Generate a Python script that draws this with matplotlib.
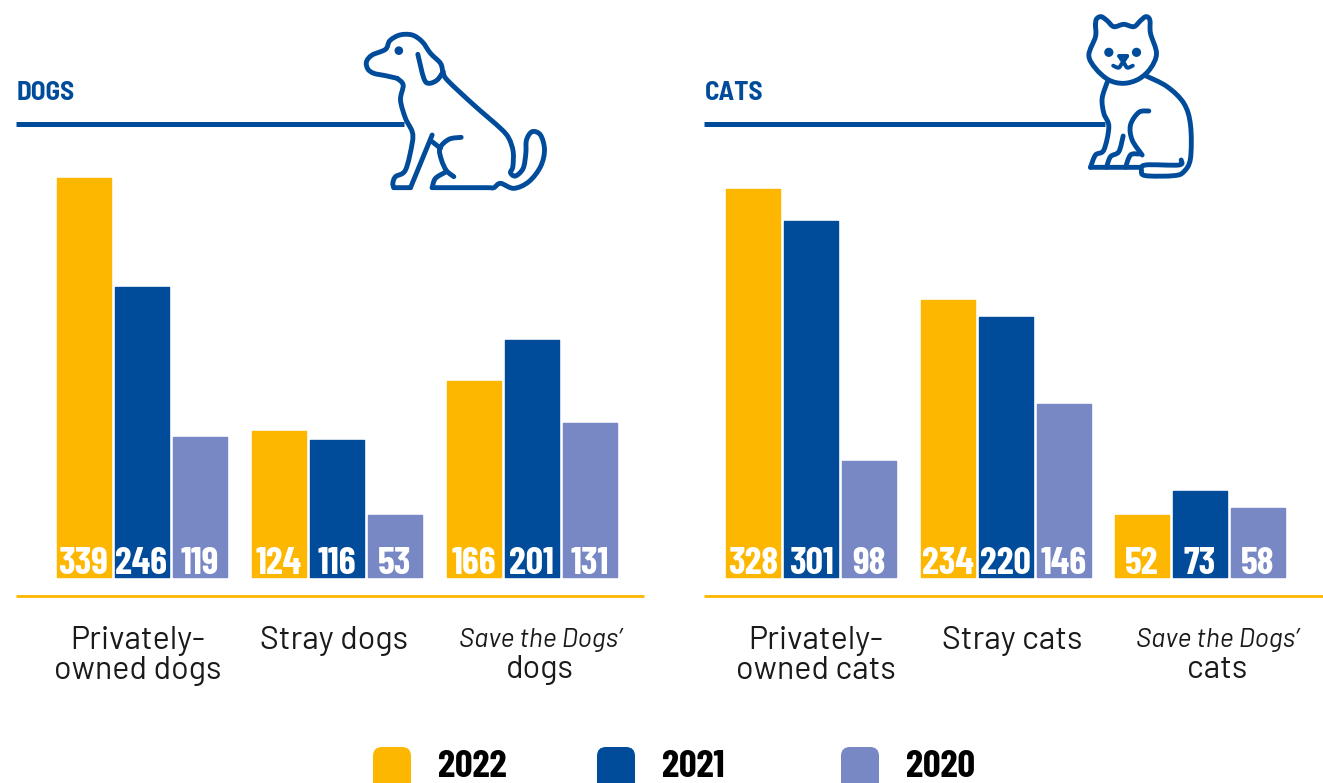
import matplotlib
matplotlib.use("Agg")
import matplotlib.pyplot as plt
from matplotlib.path import Path
from matplotlib.patches import PathPatch, Circle, FancyBboxPatch

# ---- data ----
years = ["2022", "2021", "2020"]
dog_categories = ["Privately-\nowned dogs", "Stray dogs", "Save the Dogs’\ndogs"]
cat_categories = ["Privately-\nowned cats", "Stray cats", "Save the Dogs’\ncats"]
dogs_2022 = [339, 124, 166]
dogs_2021 = [246, 116, 201]
dogs_2020 = [119, 53, 131]
cats_2022 = [328, 234, 52]
cats_2021 = [301, 220, 73]
cats_2020 = [98, 146, 58]

# ---- style ----
GOLD, BLUE, PERI = "#FDB700", "#004C9B", "#7888C4"
colors = [GOLD, BLUE, PERI]
W, H = 1323, 783
NARROW = ["Barlow Condensed", "Roboto", "DejaVu Sans"]
SEMI = ["Barlow Semi Condensed", "Roboto", "DejaVu Sans"]
BODY = ["Barlow", "Roboto", "DejaVu Sans"]

fig = plt.figure(figsize=(W / 100, H / 100), dpi=100, facecolor="white")


def panel(left, right, centers, series, px_per_unit):
    top_px, base_px, bar_px = 130, 596, 577
    ax = fig.add_axes([left / W, 1 - base_px / H, (right - left) / W, (base_px - top_px) / H])
    step = centers[1] - centers[0]
    ax.set_xlim((left - centers[0]) / step, (right - centers[0]) / step)
    ax.set_ylim(-(base_px - bar_px) / px_per_unit, (bar_px - top_px) / px_per_unit)
    for i, (vals, c) in enumerate(zip(series, colors)):
        xs = [g + (i - 1) * 58 / step for g in range(len(vals))]
        ax.bar(xs, vals, width=54 / step, color=c, edgecolor=c, linewidth=1, joinstyle="round")
        for x, v in zip(xs, vals):
            ax.annotate(str(v), (x, 0), xytext=(0, -2.8), textcoords="offset points", ha="center", va="bottom",
                        color="white", fontsize=27.5, fontweight="bold", family=NARROW)
    ax.set_xticks([])
    ax.set_yticks([])
    for s in ("top", "left", "right"):
        ax.spines[s].set_visible(False)
    ax.spines["bottom"].set_color(GOLD)
    ax.spines["bottom"].set_linewidth(2.0)
    ax.spines["bottom"].set_capstyle("butt")
    ax.patch.set_alpha(0)
    return ax


panel(16, 644, [141.5, 336.5, 531], [dogs_2022, dogs_2021, dogs_2020], 1.178)
panel(704, 1323, [811, 1005.5, 1198], [cats_2022, cats_2021, cats_2020], 1.184)

# overlay in pixel coordinates for headers, icons, category labels and legend
ov = fig.add_axes([0, 0, 1, 1])
ov.set_xlim(0, W)
ov.set_ylim(H, 0)
ov.axis("off")
ov.patch.set_alpha(0)


def smooth(pts, closed=False):
    p = list(pts)
    n = len(p)
    verts, codes = [p[0]], [Path.MOVETO]
    segs = n if closed else n - 1
    for i in range(segs):
        p0 = p[(i - 1) % n] if (closed or i > 0) else p[i]
        p1 = p[i]
        p2 = p[(i + 1) % n]
        p3 = p[(i + 2) % n] if (closed or i + 2 < n) else p2
        c1 = (p1[0] + (p2[0] - p0[0]) / 6, p1[1] + (p2[1] - p0[1]) / 6)
        c2 = (p2[0] - (p3[0] - p1[0]) / 6, p2[1] - (p3[1] - p1[1]) / 6)
        verts += [c1, c2, p2]
        codes += [Path.CURVE4] * 3
    return Path(verts, codes)


def stroke(pts, ox, oy, closed=False, lw=3.5):
    q = [(ox + x / 3, oy + y / 3) for x, y in pts]
    ov.add_patch(PathPatch(smooth(q, closed), fill=False, edgecolor=BLUE, lw=lw, capstyle="round", joinstyle="round"))


def dot(x, y, ox, oy, r):
    ov.add_patch(Circle((ox + x / 3, oy + y / 3), r, color=BLUE, lw=0))


# dog icon
ox, oy = 340.5, 20
stroke([(170, 175), (135, 167), (100, 160), (82, 147), (78, 125), (95, 105), (135, 88), (148, 62), (178, 45), (215, 45),
        (245, 65), (270, 100), (300, 130), (308, 158), (322, 182), (400, 255), (480, 325), (505, 355), (518, 395),
        (517, 440), (510, 458), (525, 468), (548, 445), (556, 400), (558, 360), (575, 335), (600, 345), (612, 390),
        (600, 440), (565, 485), (520, 505), (480, 490), (460, 503), (440, 503), (360, 503), (275, 503)], ox, oy)
stroke([(170, 175), (188, 195), (180, 240), (195, 295), (215, 335), (215, 370), (195, 450), (165, 470), (157, 490), (160, 503)], ox, oy)
stroke([(160, 503), (210, 503)], ox, oy)
stroke([(210, 503), (275, 345)], ox, oy)
stroke([(275, 365), (300, 385)], ox, oy)
stroke([(362, 352), (325, 358), (298, 385), (303, 420), (318, 452), (340, 470)], ox, oy)
stroke([(275, 503), (285, 475), (318, 455)], ox, oy)
stroke([(232, 103), (250, 175), (265, 190), (290, 180), (308, 155)], ox, oy)
dot(175, 92, ox, oy, 4.3)

# cat icon
ox, oy = 1070.5, 5
stroke([(75, 60), (78, 42), (92, 35), (110, 47), (130, 65), (160, 58), (190, 65), (210, 47), (226, 35), (238, 45),
        (240, 85), (258, 145), (240, 190), (205, 222), (160, 235), (115, 225), (75, 190), (55, 150), (75, 95)], ox, oy, closed=True)
dot(115, 142, ox, oy, 4.6)
dot(198, 142, ox, oy, 4.6)
stroke([(146, 153), (170, 153)], ox, oy, lw=2.8)
stroke([(146, 153), (158, 168), (170, 153)], ox, oy, lw=2.8)
stroke([(128, 182), (145, 188), (158, 172), (170, 188), (187, 182)], ox, oy, lw=2.8)
stroke([(110, 232), (95, 280), (100, 325), (115, 365), (100, 435), (75, 450), (60, 487)], ox, oy)
stroke([(60, 487), (210, 487)], ox, oy)
stroke([(225, 212), (290, 245), (340, 295), (360, 360), (360, 460), (340, 500), (310, 512), (225, 512), (213, 497),
        (225, 480), (325, 480), (332, 465)], ox, oy)
stroke([(158, 393), (145, 440), (120, 455), (108, 487)], ox, oy)
stroke([(205, 447), (180, 450), (165, 487)], ox, oy)
stroke([(235, 318), (205, 322), (180, 360), (185, 405), (215, 450)], ox, oy)

# headers
for x0, x1, name in [(16, 404, "DOGS"), (704, 1105, "CATS")]:
    ov.plot([x0, x1], [124, 124], color=BLUE, lw=3.6, solid_capstyle="butt")
    ov.text(x0 + 0.5, 92.5, name, color=BLUE, fontsize=19.5, fontweight="bold", family=SEMI, ha="left", va="center")


# category labels
def cat_label(cx, label, italic_first=False):
    for j, line in enumerate(label.split("\n")):
        it = italic_first and j == 0
        ov.text(cx, 640.5 + (29.5 if italic_first else 30.5) * j, line, ha="center", va="center", color="#1a1a1a",
                fontsize=19.2 if it else 23.2, fontstyle="italic" if it else "normal", family=BODY)


for cx, lab, it in zip([138, 334, 540], dog_categories, [False, False, True]):
    cat_label(cx, lab, it)
for cx, lab, it in zip([816, 1012, 1217], cat_categories, [False, False, True]):
    cat_label(cx, lab, it)

# legend
for px, tx, y, c in zip([373, 597, 841], [438, 662, 906], years, colors):
    ov.add_patch(FancyBboxPatch((px + 8, 755), 22, 40, boxstyle="round,pad=8,rounding_size=9", fc=c, ec="none",
                                clip_on=True))
    ov.text(tx, 767, y, ha="left", va="center", color="black", fontsize=28, fontweight="bold", family=NARROW)

fig.savefig("out.png", dpi=100)
